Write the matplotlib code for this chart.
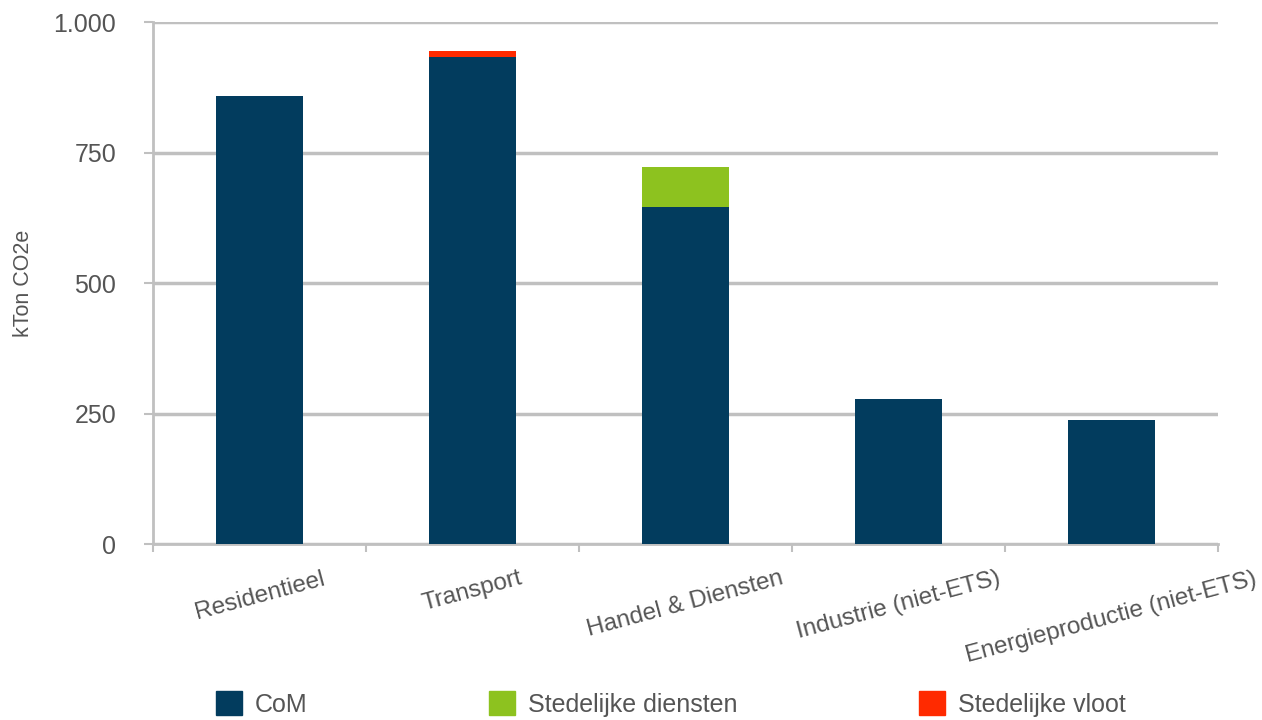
import numpy as np
import matplotlib.pyplot as plt
from matplotlib.patches import Patch
from matplotlib.ticker import FuncFormatter

categories = ["Residentieel", "Transport", "Handel & Diensten",
              "Industrie (niet-ETS)", "Energieproductie (niet-ETS)"]
com = [858, 933, 645, 277, 237]
stedelijke_diensten = [0, 0, 77, 0, 0]
stedelijke_vloot = [0, 11, 0, 0, 0]

c_com = "#023c5e"
c_dienst = "#8dc21f"
c_vloot = "#ff2a00"
grey_txt = "#555555"
grey_line = "#c0c0c0"

plt.rcParams['font.family'] = ['Liberation Sans', 'DejaVu Sans']

fig = plt.figure(figsize=(12.62, 7.2), dpi=100)
ax = fig.add_axes([0.1212, 0.2444, 0.965 - 0.1212, 0.9694 - 0.2444])

x = np.arange(len(categories))
w = 0.41
ax.bar(x, com, w, color=c_com, zorder=3)
ax.bar(x, stedelijke_diensten, w, bottom=com, color=c_dienst, zorder=3)
bottom2 = np.array(com) + np.array(stedelijke_diensten)
ax.bar(x, stedelijke_vloot, w, bottom=bottom2, color=c_vloot, zorder=3)

ax.set_xlim(-0.5, len(categories) - 0.5)
ax.set_ylim(0, 1000)
ax.set_yticks([0, 250, 500, 750, 1000])
ax.yaxis.set_major_formatter(FuncFormatter(lambda v, p: f"{int(v):,}".replace(",", ".")))
ax.grid(axis='y', color=grey_line, linewidth=2.5, zorder=0)

# category boundary ticks, labels in the middle
ax.set_xticks(np.arange(-0.5, len(categories)), minor=False)
ax.set_xticklabels([])
ax.set_xticks(x, minor=True)
ax.set_xticklabels(categories, minor=True, rotation=15, fontsize=17.5,
                   color=grey_txt, ha='center', va='top')
ax.tick_params(axis='x', which='minor', length=0, pad=17)
ax.tick_params(axis='x', which='major', length=6, color=grey_line, width=1.5)
ax.tick_params(axis='y', length=6.5, color=grey_line, width=1.5,
               labelsize=18, labelcolor=grey_txt, pad=20)

for s in ['top', 'right']:
    ax.spines[s].set_visible(False)
for s in ['left', 'bottom']:
    ax.spines[s].set_color(grey_line)
    ax.spines[s].set_linewidth(2)

ax.set_ylabel("kTon CO2e", fontsize=15.5, color=grey_txt)
ax.yaxis.set_label_coords(-0.112, 0.5)

handles = [Patch(color=c_com), Patch(color=c_dienst), Patch(color=c_vloot)]
labels = ["CoM", "Stedelijke diensten", "Stedelijke vloot"]
fig.legend(handles, labels, loc='lower left', bbox_to_anchor=(0.1533, -0.027),
           ncol=3, frameon=False, fontsize=18, labelcolor=grey_txt,
           handlelength=1.05, handleheight=1.1, handletextpad=0.52,
           columnspacing=7.25)

fig.savefig("out.png", dpi=100)
